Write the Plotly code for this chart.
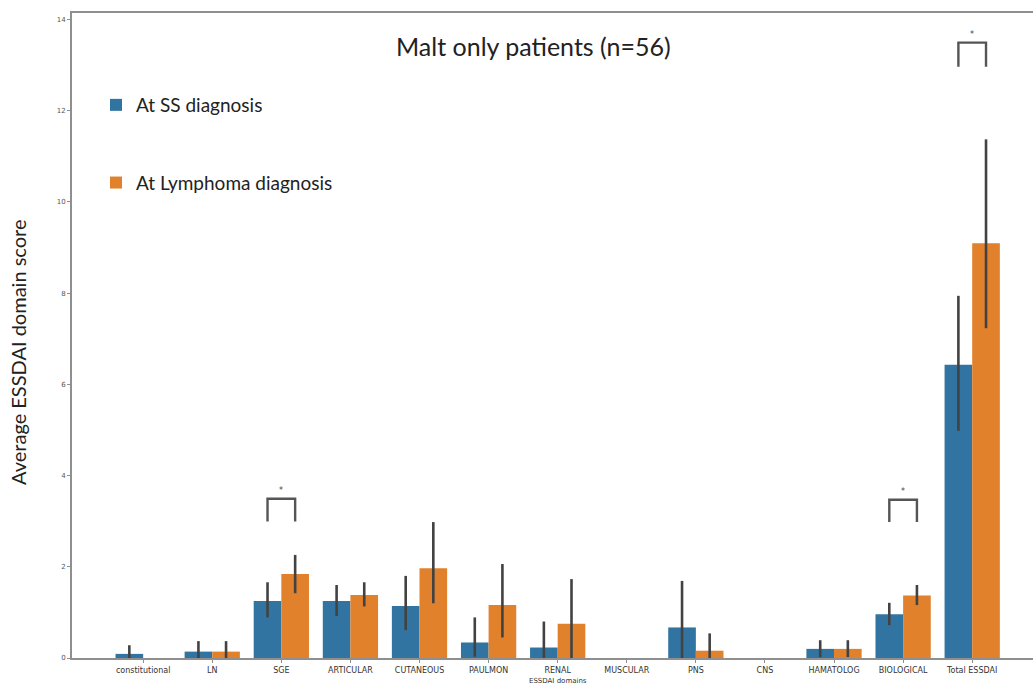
import plotly.graph_objects as go

categories = ["constitutional", "LN", "SGE", "ARTICULAR", "CUTANEOUS", "PAULMON", "RENAL",
              "MUSCULAR", "PNS", "CNS", "HAMATOLOG", "BIOLOGICAL", "Total ESSDAI"]
ss_mean = [0.09, 0.14, 1.25, 1.25, 1.14, 0.34, 0.23, 0.0, 0.67, 0.0, 0.20, 0.96, 6.43]
ss_hi = [0.28, 0.37, 1.66, 1.60, 1.80, 0.89, 0.80, 0.0, 1.69, 0.0, 0.39, 1.21, 7.94]
ss_lo = [0.0, 0.0, 0.89, 0.92, 0.61, 0.03, 0.0, 0.0, 0.0, 0.0, 0.02, 0.72, 4.98]
ly_mean = [0.0, 0.14, 1.84, 1.38, 1.97, 1.16, 0.75, 0.0, 0.16, 0.0, 0.20, 1.37, 9.09]
ly_hi = [0.0, 0.37, 2.26, 1.66, 2.98, 2.06, 1.73, 0.0, 0.54, 0.0, 0.39, 1.60, 11.37]
ly_lo = [0.0, 0.0, 1.42, 1.13, 1.20, 0.45, 0.0, 0.0, 0.0, 0.0, 0.02, 1.16, 7.23]

sig_cats = ["SGE", "BIOLOGICAL", "Total ESSDAI"]
sig_base = [2.99, 2.98, 12.96]
sig_top = [3.49, 3.47, 13.49]

series_names = ["At SS diagnosis", "At Lymphoma diagnosis"]
colors = ["#3274a1", "#e1812c"]
title_text = "Malt only patients (n=56)"
y_title = "Average ESSDAI domain score"
x_title = "ESSDAI domains"

FONT = "Lato"

fig = go.Figure()
for i, (mean, hi, lo) in enumerate([(ss_mean, ss_hi, ss_lo), (ly_mean, ly_hi, ly_lo)]):
    fig.add_trace(go.Bar(
        x=categories, y=mean, name=series_names[i],
        marker=dict(color=colors[i], line=dict(width=0)),
        legendgroup=f"g{i}",
        error_y=dict(type="data", symmetric=False,
                     array=[h - m for h, m in zip(hi, mean)],
                     arrayminus=[m - l for m, l in zip(mean, lo)],
                     color="#424242", thickness=2.6, width=0),
    ))

shapes = []
annotations = []
for cat, b, t in zip(sig_cats, sig_base, sig_top):
    idx = categories.index(cat)
    x0, x1 = idx - 0.2, idx + 0.2
    shapes.append(dict(type="path", xref="x", yref="y",
                       path=f"M {x0} {b} L {x0} {t} L {x1} {t} L {x1} {b}",
                       line=dict(color="#555555", width=2.4)))
    annotations.append(dict(x=idx, y=t + 0.04, xref="x", yref="y", text="*",
                            showarrow=False, yanchor="bottom",
                            font=dict(size=8, color="#444444", family="DejaVu Sans")))

annotations.append(dict(xref="x domain", yref="y domain",
                        x=(533 - 72) / 961, y=(658 - 46) / 645,
                        xanchor="center", yanchor="middle", text=title_text,
                        showarrow=False, font=dict(size=25, color="#222222", family=FONT)))
annotations.append(dict(xref="paper", yref="paper", x=(18 - 72) / 961, y=(658 - 353) / 645,
                        text=y_title, textangle=-90, showarrow=False,
                        xanchor="center", yanchor="middle",
                        font=dict(size=20, color="#222222", family=FONT)))
annotations.append(dict(xref="x", yref="paper", x=6, y=-(675 - 658) / 645,
                        text=x_title, showarrow=False, xanchor="center", yanchor="top",
                        font=dict(size=7, color="#333333", family="DejaVu Sans")))

fig.update_layout(
    width=1033, height=684,
    margin=dict(l=72, r=0, t=13, b=26),
    paper_bgcolor="white", plot_bgcolor="white",
    barmode="group", bargap=0.2, bargroupgap=0,
    showlegend=True,
    legend=dict(x=(96 - 72) / 961, y=(658 - 86) / 645, xanchor="left", yanchor="top",
                font=dict(size=19, color="#222222", family=FONT),
                tracegroupgap=50, itemwidth=30, bgcolor="rgba(0,0,0,0)",
                traceorder="grouped"),
    shapes=shapes, annotations=annotations,
    xaxis=dict(range=[-1.03, 12.88], showgrid=False, zeroline=False,
               showline=True, linecolor="#8f8f8f", linewidth=2, mirror=True,
               ticks="outside", ticklen=3, tickcolor="#8f8f8f", tickwidth=1,
               tickfont=dict(size=8, color="#333333", family="DejaVu Sans"),
               tickangle=0),
    yaxis=dict(range=[0, 14.14], showgrid=False, zeroline=False,
               showline=True, linecolor="#8f8f8f", linewidth=2,
               tickvals=[0, 2, 4, 6, 8, 10, 12, 14],
               ticks="outside", ticklen=3, tickcolor="#8f8f8f", tickwidth=1,
               tickfont=dict(size=7, color="#555555", family="DejaVu Sans")),
)

fig.write_html("out.html")
